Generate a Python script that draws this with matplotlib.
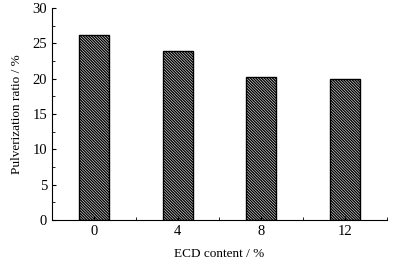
import matplotlib
matplotlib.use("Agg")
import matplotlib.pyplot as plt
from matplotlib.ticker import MultipleLocator

plt.rcParams["font.family"] = "Liberation Serif"
plt.rcParams["hatch.linewidth"] = 1.0

ecd_content = ["0", "4", "8", "12"]
pulverization = [26.2, 23.9, 20.2, 19.9]

fig = plt.figure(figsize=(3.94, 2.63), dpi=100)
ax = fig.add_axes([0.132, 0.163, 0.85, 0.807])

x = range(len(ecd_content))
ax.bar(x, pulverization, width=0.36, color="white", edgecolor="black",
       hatch="\\" * 12, linewidth=1.0)

ax.set_xlim(-0.5, 3.5)
ax.set_ylim(0, 30)
ax.set_xticks(list(x))
ax.set_xticklabels(ecd_content)
ax.xaxis.set_minor_locator(MultipleLocator(0.5))
ax.yaxis.set_major_locator(MultipleLocator(5))
ax.yaxis.set_minor_locator(MultipleLocator(2.5))
ax.tick_params(which="both", direction="in", labelsize=10.5)
ax.tick_params(which="major", length=3)
ax.tick_params(which="minor", length=2)
ax.spines["top"].set_visible(False)
ax.spines["right"].set_visible(False)

ax.set_xlabel("ECD content / %", fontsize=9.5, labelpad=7)
ax.set_ylabel("Pulverization ratio / %", fontsize=9.5, labelpad=7)

fig.savefig("out.png", dpi=100)
